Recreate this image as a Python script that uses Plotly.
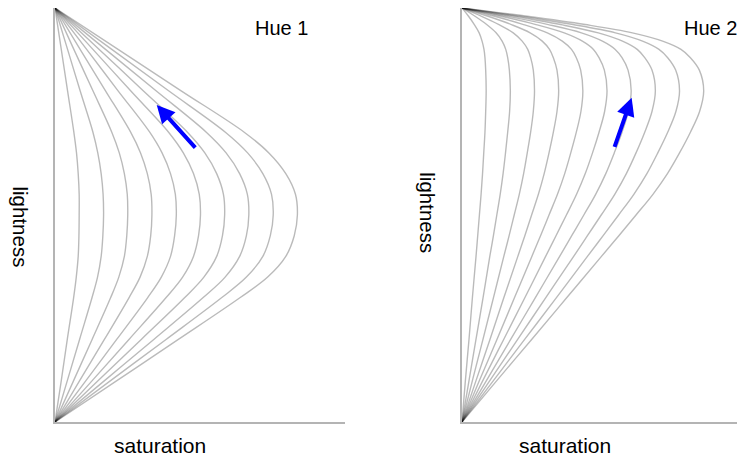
import plotly.graph_objects as go

# ---- data ----
saturation_levels = [10, 20, 30, 40, 50, 60, 70, 80, 90, 100]

hue1_lightness = [0, 10, 20, 30, 35, 40, 45, 50, 55, 60, 65, 70, 80, 90, 100]
hue1_s10 = [0, 2.6, 5.1, 7.7, 8.8, 9.6, 9.9, 10.0, 10.0, 9.6, 8.9, 7.8, 5.2, 2.6, 0]
hue1_s20 = [0, 5.1, 10.2, 15.3, 17.6, 19.1, 19.8, 20.1, 19.9, 19.1, 17.7, 15.7, 10.4, 5.2, 0]
hue1_s30 = [0, 7.7, 15.4, 23.0, 26.4, 28.7, 29.7, 30.1, 29.9, 28.7, 26.6, 23.5, 15.7, 7.8, 0]
hue1_s40 = [0, 10.2, 20.5, 30.6, 35.2, 38.2, 39.6, 40.1, 39.8, 38.2, 35.4, 31.3, 20.9, 10.4, 0]
hue1_s50 = [0, 12.8, 25.6, 38.3, 44.0, 47.8, 49.5, 50.2, 49.8, 47.8, 44.3, 39.2, 26.1, 13.1, 0]
hue1_s60 = [0, 15.4, 30.7, 45.9, 52.8, 57.3, 59.4, 60.2, 59.7, 57.3, 53.1, 47.0, 31.3, 15.7, 0]
hue1_s70 = [0, 17.9, 35.8, 53.6, 61.6, 66.9, 69.3, 70.2, 69.7, 66.9, 62.0, 54.8, 36.5, 18.3, 0]
hue1_s80 = [0, 20.5, 41.0, 61.2, 70.4, 76.4, 79.2, 80.2, 79.6, 76.4, 70.8, 62.6, 41.8, 20.9, 0]
hue1_s90 = [0, 23.0, 46.1, 68.9, 79.2, 86.0, 89.1, 90.3, 89.6, 86.0, 79.7, 70.5, 47.0, 23.5, 0]
hue1_s100 = [0, 25.6, 51.2, 76.5, 88.0, 95.5, 99.0, 100.3, 99.5, 95.5, 88.5, 78.3, 52.2, 26.1, 0]

hue2_lightness = [0, 10, 20, 30, 40, 45, 50, 55, 60, 65, 70, 75, 80, 85, 88, 90, 92, 94, 96, 98, 100]
hue2_s10 = [0, 1.4, 2.9, 4.3, 5.8, 6.5, 7.2, 7.9, 8.5, 9.0, 9.5, 9.8, 10.0, 9.8, 9.5, 9.1, 8.3, 7.1, 5.1, 2.7, 0]
hue2_s20 = [0, 2.9, 5.8, 8.7, 11.5, 13.0, 14.4, 15.8, 17.0, 18.0, 18.9, 19.7, 20.0, 19.6, 18.9, 18.1, 16.6, 14.1, 10.2, 5.4, 0]
hue2_s30 = [0, 4.3, 8.7, 13.0, 17.3, 19.5, 21.6, 23.7, 25.5, 27.0, 28.4, 29.5, 30.0, 29.5, 28.4, 27.2, 24.9, 21.2, 15.3, 8.1, 0]
hue2_s40 = [0, 5.8, 11.6, 17.3, 23.1, 26.0, 28.8, 31.6, 34.0, 36.0, 37.8, 39.3, 40.0, 39.3, 37.8, 36.2, 33.2, 28.2, 20.4, 10.8, 0]
hue2_s50 = [0, 7.2, 14.5, 21.7, 28.9, 32.5, 36.0, 39.5, 42.5, 45.0, 47.3, 49.2, 50.0, 49.1, 47.3, 45.3, 41.5, 35.3, 25.5, 13.5, 0]
hue2_s60 = [0, 8.6, 17.3, 26.0, 34.6, 38.9, 43.2, 47.4, 51.0, 54.0, 56.7, 59.0, 60.0, 58.9, 56.7, 54.4, 49.8, 42.3, 30.6, 16.2, 0]
hue2_s70 = [0, 10.1, 20.2, 30.3, 40.4, 45.4, 50.4, 55.3, 59.5, 63.0, 66.2, 68.8, 70.0, 68.7, 66.2, 63.4, 58.1, 49.4, 35.7, 18.9, 0]
hue2_s80 = [0, 11.5, 23.1, 34.6, 46.2, 51.9, 57.6, 63.2, 68.0, 72.0, 75.6, 78.6, 80.0, 78.6, 75.6, 72.5, 66.4, 56.4, 40.8, 21.6, 0]
hue2_s90 = [0, 13.0, 26.0, 39.0, 51.9, 58.4, 64.8, 71.1, 76.5, 81.0, 85.1, 88.5, 90.0, 88.4, 85.1, 81.5, 74.7, 63.5, 45.9, 24.3, 0]
hue2_s100 = [0, 14.4, 28.9, 43.3, 57.7, 64.9, 72.0, 79.0, 85.0, 90.0, 94.5, 98.3, 100.0, 98.2, 94.5, 90.6, 83.0, 70.5, 51.0, 27.0, 0]

# arrows: (tail saturation, tail lightness) -> (head saturation, head lightness)
arrow1_tail = [58.6, 65.9]
arrow1_head = [42.1, 76.6]
arrow2_tail = [62.9, 66.1]
arrow2_head = [70.2, 78.3]

hue1_curves = [hue1_s10, hue1_s20, hue1_s30, hue1_s40, hue1_s50,
               hue1_s60, hue1_s70, hue1_s80, hue1_s90, hue1_s100]
hue2_curves = [hue2_s10, hue2_s20, hue2_s30, hue2_s40, hue2_s50,
               hue2_s60, hue2_s70, hue2_s80, hue2_s90, hue2_s100]

# the page body has an 8px margin, so the figure is drawn 8px smaller and
# all page positions below are shifted by that offset
OFF = 8
W, H = 745 - OFF, 472 - OFF
fig = go.Figure()

line_style = dict(color="rgba(0,0,0,0.27)", width=1.4, shape="spline", smoothing=1.0)

for s, xs in zip(saturation_levels, hue1_curves):
    fig.add_trace(go.Scatter(x=xs, y=hue1_lightness, mode="lines", line=line_style,
                             xaxis="x", yaxis="y", showlegend=False, hoverinfo="skip",
                             name=f"Hue 1 S={s}"))
for s, xs in zip(saturation_levels, hue2_curves):
    fig.add_trace(go.Scatter(x=xs, y=hue2_lightness, mode="lines", line=line_style,
                             xaxis="x2", yaxis="y2", showlegend=False, hoverinfo="skip",
                             name=f"Hue 2 S={s}"))

axis_common = dict(showgrid=False, zeroline=False, showticklabels=False, ticks="",
                   showline=True, linecolor="#b4b4b4", linewidth=1.5, fixedrange=True)

def px_x(v):
    return (v - OFF) / W

def px_y(v):
    return 1 - (v - OFF) / H

ydom = [px_y(422), px_y(8)]
fig.update_layout(
    width=W, height=H,
    margin=dict(l=0, r=0, t=0, b=0),
    paper_bgcolor="white", plot_bgcolor="white",
    xaxis=dict(domain=[px_x(55), px_x(345)], range=[0, 120], anchor="y", **axis_common),
    yaxis=dict(domain=ydom, range=[0, 100], anchor="x", **axis_common),
    xaxis2=dict(domain=[px_x(462), 1.0], range=[0, 283 / 2.417], anchor="y2", **axis_common),
    yaxis2=dict(domain=ydom, range=[0, 100], anchor="x2", **axis_common),
)

font_t = dict(family="Liberation Sans, Arial, sans-serif", size=20, color="black")
font_a = dict(family="Liberation Sans, Arial, sans-serif", size=21, color="black")
font_l = dict(family="Liberation Sans, Arial, sans-serif", size=20.5, color="black")

def txt(text, px, py, font, angle=0):
    fig.add_annotation(text=text, x=px_x(px), y=px_y(py), xref="paper", yref="paper",
                       showarrow=False, font=font, textangle=angle, borderpad=0,
                       xanchor="center", yanchor="middle")

txt("Hue 1", 281.5, 27.5, font_t)
txt("Hue 2", 710, 27.5, font_t)
txt("saturation", 160, 445, font_a)
txt("saturation", 565, 445, font_a)
txt("lightness", 20, 226.5, font_l, 90)
txt("lightness", 428, 213.3, font_l, 90)

for (tail, head, xr, yr) in [(arrow1_tail, arrow1_head, "x", "y"),
                             (arrow2_tail, arrow2_head, "x2", "y2")]:
    fig.add_annotation(x=head[0], y=head[1], ax=tail[0], ay=tail[1],
                       xref=xr, yref=yr, axref=xr, ayref=yr, text="",
                       showarrow=True, arrowhead=2, arrowsize=0.9, arrowwidth=4,
                       arrowcolor="#0000ff", standoff=0)

fig.write_html("out.html")
